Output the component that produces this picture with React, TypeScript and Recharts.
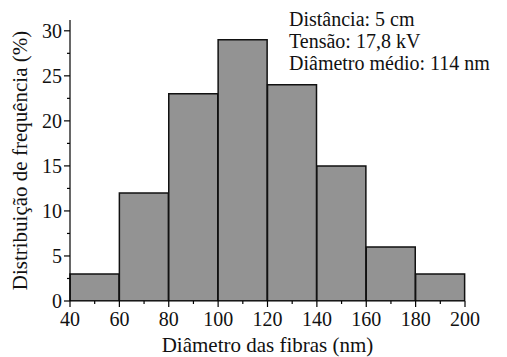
import React from "react";
import { BarChart, Bar, XAxis, YAxis } from "recharts";

const binStarts = [40, 60, 80, 100, 120, 140, 160, 180];
const frequencies = [3, 12, 23, 29, 24, 15, 6, 3];
const xTicks = [40, 50, 60, 70, 80, 90, 100, 110, 120, 130, 140, 150, 160, 170, 180, 190, 200];
const yTicks = [0, 2.5, 5, 7.5, 10, 12.5, 15, 17.5, 20, 22.5, 25, 27.5, 30];
const notes = ["Distância: 5 cm", "Tensão: 17,8 kV", "Diâmetro médio: 114 nm"];

const data = binStarts.map((s, i) => ({ bin: `${s}-${s + 20}`, start: s, value: frequencies[i] }));

const FONT = "'Liberation Serif', 'Times New Roman', Times, 'DejaVu Serif', serif";

const XTick = (props: any) => {
  const { x, y, payload } = props;
  const major = payload.value % 20 === 0;
  return (
    <g>
      <line x1={x} x2={x} y1={y} y2={y + (major ? 6 : 3)} stroke="#000" strokeWidth={1.2} />
      {major && (
        <text x={x} y={y + 25} textAnchor="middle" fontSize={20} fontFamily={FONT} fill="#111">
          {payload.value}
        </text>
      )}
    </g>
  );
};

const YTick = (props: any) => {
  const { x, y, payload } = props;
  const major = payload.value % 5 === 0;
  return (
    <g>
      <line x1={x} x2={x - (major ? 6 : 3)} y1={y} y2={y} stroke="#000" strokeWidth={1.2} />
      {major && (
        <text x={x - 8} y={y + 7} textAnchor="end" fontSize={20} fontFamily={FONT} fill="#111">
          {payload.value}
        </text>
      )}
    </g>
  );
};

export default function App() {
  return (
    <div style={{ position: "relative", width: 499, height: 349, background: "#fff" }}>
      <BarChart
        width={499}
        height={349}
        data={data}
        margin={{ top: 12, right: 42, bottom: 3, left: 8 }}
        barCategoryGap={0}
      >
        <XAxis xAxisId="cat" dataKey="bin" hide height={0} />
        <XAxis
          xAxisId="num"
          dataKey="start"
          type="number"
          domain={[40, 200]}
          ticks={xTicks}
          interval={0}
          allowDataOverflow
          height={53}
          tickSize={0}
          tickMargin={0}
          tick={<XTick />}
          axisLine={{ stroke: "#000", strokeWidth: 1.2 }}
          label={{
            value: "Diâmetro das fibras (nm)",
            position: "insideBottom",
            offset: 2,
            fontSize: 21,
            fontFamily: FONT,
            fill: "#111",
          }}
        />
        <YAxis
          domain={[0, 31.2]}
          ticks={yTicks}
          interval={0}
          allowDataOverflow
          width={54}
          tickSize={0}
          tickMargin={0}
          tick={<YTick />}
          axisLine={{ stroke: "#000", strokeWidth: 1.2 }}
          label={{
            value: "Distribuição de frequência (%)",
            angle: -90,
            position: "insideLeft",
            offset: 4,
            fontSize: 21,
            fontFamily: FONT,
            fill: "#111",
            style: { textAnchor: "middle" },
          }}
        />
        <Bar
          xAxisId="cat"
          dataKey="value"
          fill="#939393"
          stroke="#111"
          strokeWidth={1.5}
          isAnimationActive={false}
        />
      </BarChart>
      <div
        style={{
          position: "absolute",
          left: 281,
          top: 0,
          fontFamily: FONT,
          fontSize: 20,
          lineHeight: "22px",
          color: "#111",
          whiteSpace: "nowrap",
        }}
      >
        {notes.map((n) => (
          <div key={n}>{n}</div>
        ))}
      </div>
    </div>
  );
}
